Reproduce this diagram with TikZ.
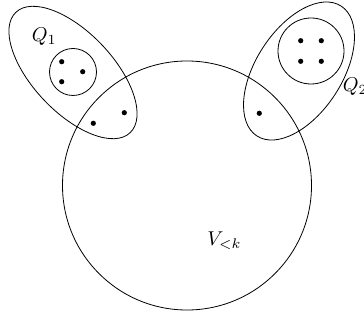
\documentclass[tikz,border=0pt]{standalone}
\begin{document}
\begin{tikzpicture}[x=0.5pt,y=-0.5pt,
  dot/.style={fill=black,draw=none},
  lbl/.style={inner sep=0pt,anchor=base west}]
\useasboundingbox (0,0) rectangle (364,320);
% big set
\draw (187,185.5) circle [radius=124.5];
% Q1
\draw[rotate around={-46.5:(73,72.5)}] (73,72.5) ellipse [x radius=83, y radius=40];
\draw (73,72) circle [radius=23.5];
\foreach \p in {(61.7,61.7),(82.7,71.7),(61.7,81.7),(93.3,123.3),(124.3,112.7)}
  \fill[dot] \p circle [radius=2.6];
% Q2
\draw[rotate around={57:(299,71)}] (299,71) ellipse [x radius=77.4, y radius=43];
\draw (311,51) circle [radius=33];
\foreach \p in {(300.7,40.7),(321.3,40.7),(300.7,61.3),(321.3,61.3),(259.3,113.3)}
  \fill[dot] \p circle [radius=2.6];
% labels
\node[lbl] (q1) at (31.5,41.7) {$Q_1$};
\node[lbl] (q2) at (342.5,91.7) {$Q_2$};
\node[lbl] (v) at (207,245.7) {$V_{<k}$};
\end{tikzpicture}
\end{document}
